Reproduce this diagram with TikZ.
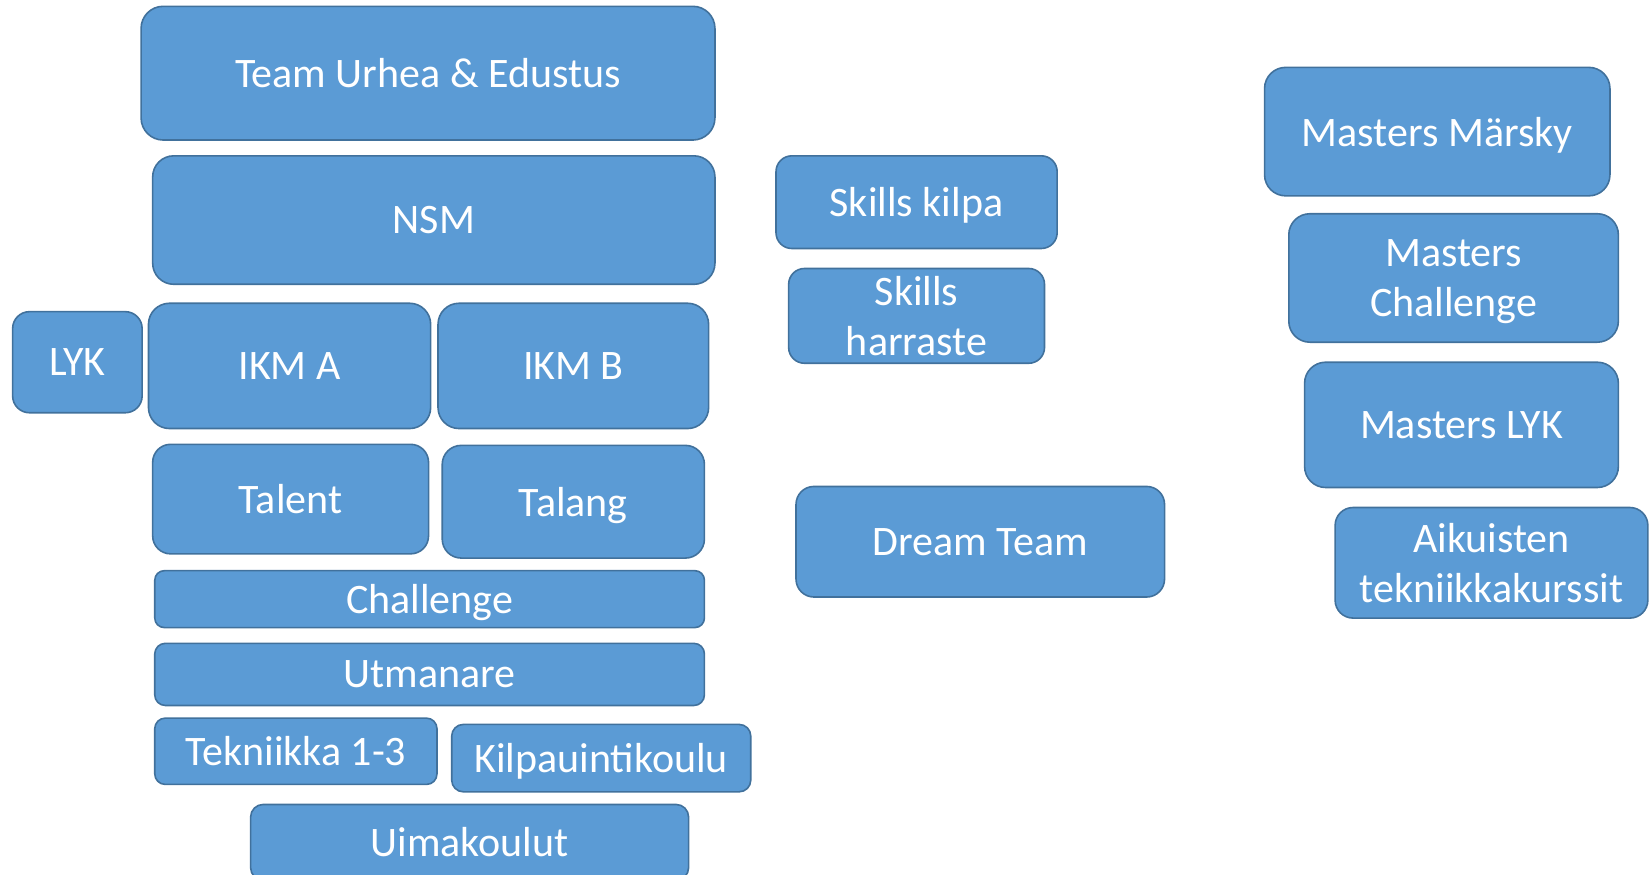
\documentclass[tikz,border=0pt]{standalone}
\usepackage{fontspec}
\setmainfont{Carlito}
\definecolor{boxfill}{HTML}{5B9BD5}
\definecolor{boxline}{HTML}{41719C}
\tikzset{
  bx/.style={draw=boxline, fill=boxfill, line width=1.6pt, text=white, align=center,
    inner sep=0pt, text depth=0pt, font=\fontsize{42}{50}\selectfont}
}
% \bx{name}{x1}{y1}{x2}{y2}{radius}{text}  (coordinates in reference px, 1568x831 frame)
\newcommand{\bx}[7]{%
  \node[bx, rounded corners={#6*1.0529pt},
        minimum width={(#4-#2)*1.0529pt}, minimum height={(#5-#3)*1.0529pt}]
        (#1) at ({(#2+#4)/2},{(#3+#5)/2}) {#7};}
\begin{document}
\begin{tikzpicture}[x=1.0529pt, y=-1.0529pt]
\useasboundingbox (0,0) rectangle (1568,831);
\bx{team}{134}{6}{679}{133}{21}{Team Urhea \& Edustus}
\bx{nsm}{145}{148}{679}{270}{20}{NSM}
\bx{lyk}{12}{296}{135}{392}{16}{LYK}
\bx{ikma}{141}{288}{409}{407}{20}{IKM A}
\bx{ikmb}{416}{288}{673}{407}{20}{IKM B}
\bx{talent}{145}{422}{407}{526}{17}{Talent}
\bx{talang}{420}{423}{669}{530}{18}{Talang}
\bx{challenge}{147}{542}{669}{596}{9}{Challenge}
\bx{utmanare}{147}{611}{669}{670}{10}{Utmanare}
\bx{tekniikka}{147}{682}{415}{745}{10}{Tekniikka 1-3}
\bx{kilpa}{429}{688}{713}{752}{11}{Kilpauintikoulu}
\bx{uimakoulut}{238}{764}{654}{836}{12}{Uimakoulut}
\bx{skillsk}{737}{148}{1004}{236}{15}{Skills kilpa}
\bx{skillsh}{749}{255}{992}{345}{15}{Skills\\harraste}
\bx{dream}{756}{462}{1106}{567}{17}{Dream Team}
\bx{marsky}{1201}{64}{1529}{186}{20}{Masters Märsky}
\bx{mchal}{1224}{203}{1537}{325}{20}{Masters\\Challenge}
\bx{mlyk}{1239}{344}{1537}{463}{20}{Masters LYK}
\bx{aikuis}{1268}{482}{1565}{587}{17}{Aikuisten\\tekniikkakurssit}
\end{tikzpicture}
\end{document}
